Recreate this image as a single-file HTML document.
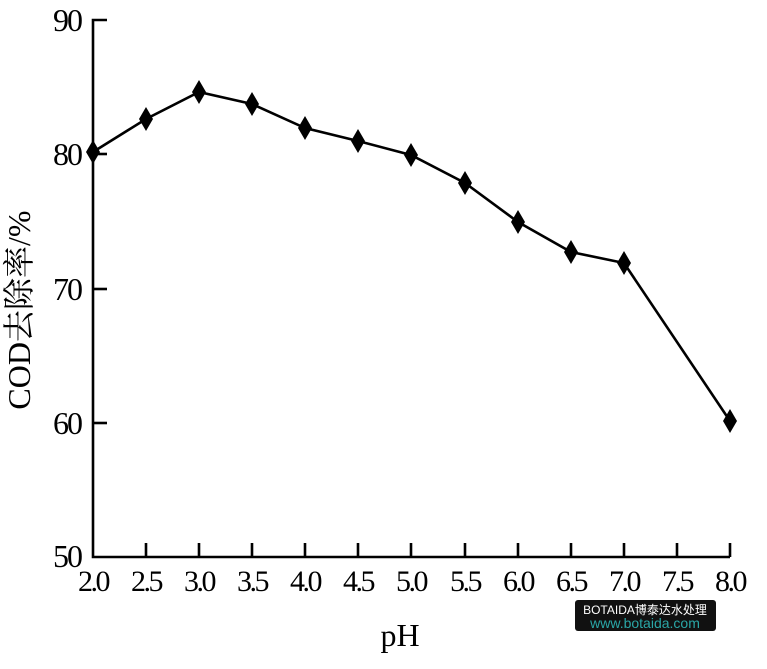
<!DOCTYPE html>
<html><head><meta charset="utf-8"><style>
body{margin:0;background:#fff;}
svg text{font-family:"Liberation Serif","Noto Serif CJK SC",serif;fill:#000;}
</style></head><body>
<svg width="767" height="664" viewBox="0 0 767 664" xmlns="http://www.w3.org/2000/svg">
<g stroke="#000" stroke-width="2.6" fill="none">
<polyline points="107,20 93,20 93,557 730,557"/>
<line x1="93" y1="154" x2="107" y2="154"/>
<line x1="93" y1="289" x2="107" y2="289"/>
<line x1="93" y1="423" x2="107" y2="423"/>
<line x1="146" y1="557" x2="146" y2="543"/>
<line x1="199" y1="557" x2="199" y2="543"/>
<line x1="252" y1="557" x2="252" y2="543"/>
<line x1="305" y1="557" x2="305" y2="543"/>
<line x1="358" y1="557" x2="358" y2="543"/>
<line x1="411" y1="557" x2="411" y2="543"/>
<line x1="465" y1="557" x2="465" y2="543"/>
<line x1="518" y1="557" x2="518" y2="543"/>
<line x1="571" y1="557" x2="571" y2="543"/>
<line x1="624" y1="557" x2="624" y2="543"/>
<line x1="677" y1="557" x2="677" y2="543"/>
<line x1="730" y1="557" x2="730" y2="543"/>
<polyline stroke-width="2.6" points="93,152 146,119 199,92 252,104 305,128 358,141 411,155 465,183 518,222 571,252 624,263 730,421"/>
</g>
<g fill="#000">
<path d="M0,-12 L7,0 L0,12 L-7,0Z" transform="translate(93,152)"/>
<path d="M0,-12 L7,0 L0,12 L-7,0Z" transform="translate(146,119)"/>
<path d="M0,-12 L7,0 L0,12 L-7,0Z" transform="translate(199,92)"/>
<path d="M0,-12 L7,0 L0,12 L-7,0Z" transform="translate(252,104)"/>
<path d="M0,-12 L7,0 L0,12 L-7,0Z" transform="translate(305,128)"/>
<path d="M0,-12 L7,0 L0,12 L-7,0Z" transform="translate(358,141)"/>
<path d="M0,-12 L7,0 L0,12 L-7,0Z" transform="translate(411,155)"/>
<path d="M0,-12 L7,0 L0,12 L-7,0Z" transform="translate(465,183)"/>
<path d="M0,-12 L7,0 L0,12 L-7,0Z" transform="translate(518,222)"/>
<path d="M0,-12 L7,0 L0,12 L-7,0Z" transform="translate(571,252)"/>
<path d="M0,-12 L7,0 L0,12 L-7,0Z" transform="translate(624,263)"/>
<path d="M0,-12 L7,0 L0,12 L-7,0Z" transform="translate(730,421)"/>
</g>
<g font-size="32" text-anchor="end" letter-spacing="-2">
<text x="81" y="31">90</text>
<text x="81" y="165">80</text>
<text x="81" y="300">70</text>
<text x="81" y="434">60</text>
<text x="81" y="567">50</text>
</g>
<g font-size="30" text-anchor="middle" letter-spacing="-2.5">
<text x="93" y="591">2.0</text><text x="146" y="591">2.5</text><text x="199" y="591">3.0</text>
<text x="252" y="591">3.5</text><text x="305" y="591">4.0</text><text x="358" y="591">4.5</text>
<text x="411" y="591">5.0</text><text x="465" y="591">5.5</text><text x="518" y="591">6.0</text>
<text x="571" y="591">6.5</text><text x="624" y="591">7.0</text><text x="677" y="591">7.5</text>
<text x="730" y="591">8.0</text>
</g>
<text x="400" y="646" font-size="32" text-anchor="middle">pH</text>
<text transform="translate(30,310) rotate(-90)" font-size="32" text-anchor="middle">COD去除率/%</text>
<rect x="575" y="600" width="141" height="31" rx="3" fill="#111"/>
<text x="645" y="614" font-size="12" text-anchor="middle" style="font-family:'Liberation Sans','Noto Sans CJK SC',sans-serif;fill:#fff">BOTAIDA博泰达水处理</text>
<text x="645" y="628" font-size="14" text-anchor="middle" style="font-family:'Liberation Sans',sans-serif;fill:#2aa6a6">www.botaida.com</text>
</svg>
</body></html>
